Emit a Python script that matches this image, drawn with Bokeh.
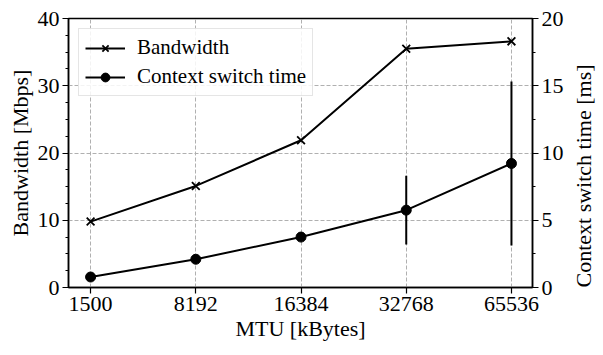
import math
from bokeh.plotting import figure
from bokeh.models import Range1d, LinearAxis, FixedTicker, Legend, LegendItem
from bokeh.embed import file_html
from bokeh.resources import INLINE

mtu_labels = ["1500", "8192", "16384", "32768", "65536"]
bandwidth = [9.8, 15.1, 21.9, 35.5, 36.6]
ctx_time = [0.78, 2.1, 3.75, 5.75, 9.22]
ctx_err = [0.0, 0.0, 0.0, 2.55, 6.1]

xs = list(range(len(mtu_labels)))
FONT = "Liberation Serif"

p = figure(frame_width=464, frame_height=269, output_backend="svg", toolbar_location=None,
           x_range=Range1d(-0.21, 4.2), y_range=Range1d(0, 40),
           min_border_left=68, min_border_right=71, min_border_top=18, min_border_bottom=68)
p.extra_y_ranges = {"right": Range1d(0, 20)}

p.outline_line_color = "black"
p.outline_line_width = 1.5
p.background_fill_color = "white"
p.border_fill_color = "white"

# grid
p.xgrid.ticker = FixedTicker(ticks=xs)
p.ygrid.ticker = FixedTicker(ticks=[0, 10, 20, 30, 40])
for g in (p.xgrid, p.ygrid):
    g.grid_line_color = "#b0b0b0"
    g.grid_line_dash = "4 2"
    g.grid_line_width = 1

# x axis
xa = p.xaxis[0]
xa.ticker = FixedTicker(ticks=xs)
xa.major_label_overrides = {i: l for i, l in zip(xs, mtu_labels)}
xa.axis_label = "MTU [kBytes]"

# left axis
ya = p.yaxis[0]
ya.ticker = FixedTicker(ticks=[0, 10, 20, 30, 40],
                        minor_ticks=[2.5 * i for i in range(17)])
ya.axis_label = "Bandwidth [Mbps]"

# right axis
ra = LinearAxis(y_range_name="right", axis_label="Context switch time [ms]")
ra.ticker = FixedTicker(ticks=[0, 5, 10, 15, 20],
                        minor_ticks=[2.5 * i for i in range(9)])
p.add_layout(ra, "right")

for ax in (xa, ya, ra):
    ax.axis_line_color = "black"
    ax.axis_line_width = 1.5
    ax.major_tick_line_color = "black"
    ax.major_tick_line_width = 1.2
    ax.major_tick_out = 6
    ax.major_tick_in = 0
    ax.minor_tick_line_color = "black"
    ax.minor_tick_out = 3
    ax.minor_tick_in = 0
    ax.major_label_text_font = FONT
    ax.major_label_text_font_size = "22px"
    ax.major_label_text_color = "black"
    ax.axis_label_text_font = FONT
    ax.axis_label_text_font_size = "22px"
    ax.axis_label_text_font_style = "normal"
    ax.axis_label_text_color = "black"
    ax.axis_label_standoff = 2
    ax.major_label_standoff = 3
xa.minor_tick_line_color = None

ra.axis_label_orientation = math.pi / 2
ra.axis_label_align = "start"
ra.axis_label_standoff = 17

# bandwidth
l1 = p.line(xs, bandwidth, line_color="black", line_width=2)
m1 = p.scatter(xs, bandwidth, marker="x", size=11, line_color="black", line_width=1.8)

# context switch error bars
lower = [c - e for c, e in zip(ctx_time, ctx_err)]
upper = [c + e for c, e in zip(ctx_time, ctx_err)]
p.segment(x0=xs, y0=lower, x1=xs, y1=upper, line_color="black", line_width=2,
          y_range_name="right")
l2 = p.line(xs, ctx_time, line_color="black", line_width=2, y_range_name="right")
m2 = p.scatter(xs, ctx_time, marker="circle", size=10, fill_color="black",
               line_color="black", y_range_name="right")

legend = Legend(items=[LegendItem(label="Bandwidth", renderers=[l1, m1]),
                       LegendItem(label="Context switch time", renderers=[l2, m2])],
                location="top_left")
legend.label_text_font = FONT
legend.label_text_font_size = "21px"
legend.label_text_color = "black"
legend.border_line_color = "#cccccc"
legend.border_line_width = 1
legend.background_fill_alpha = 0.85
legend.glyph_width = 40
legend.glyph_height = 22
legend.spacing = 4
legend.padding = 6
legend.margin = 10
legend.label_standoff = 12
p.add_layout(legend)

open("out.html", "w").write(file_html(p, INLINE))
